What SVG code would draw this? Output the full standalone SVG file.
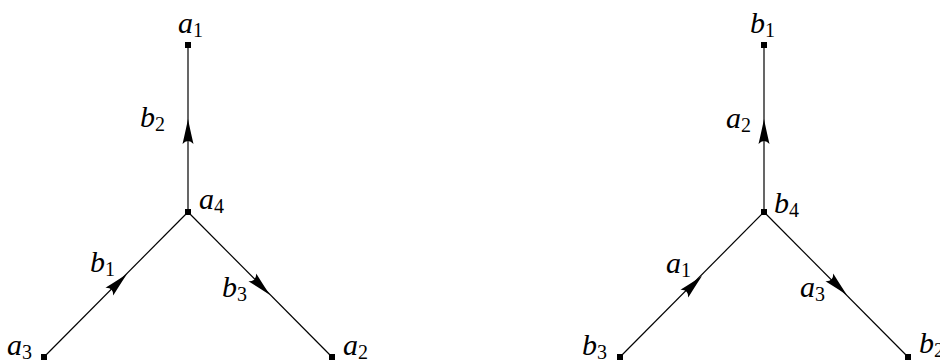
<svg xmlns="http://www.w3.org/2000/svg" xmlns:xlink="http://www.w3.org/1999/xlink" width="940" height="360" viewBox="0 0 940 360">
<style>
.edge{stroke:#000;stroke-width:1.2;fill:none}
.node{fill:#000}
.lbl{font-family:"Liberation Serif","DejaVu Serif",serif;font-style:italic;font-size:30px;fill:#000}
.sub{font-style:normal;font-size:20px}
</style>
<defs>
<path id="ah" d="M0,0 Q-10,-2 -25,-5.5 Q-19,0 -25,5.5 Q-10,2 0,0 Z" fill="#000"/>
</defs>
<g id="connectors">
<line class="edge" x1="188" y1="212" x2="188" y2="45"/>
<line class="edge" x1="44" y1="357" x2="188" y2="212"/>
<line class="edge" x1="188" y1="212" x2="332" y2="357"/>
<use xlink:href="#ah" transform="translate(188,119) rotate(-90)"/>
<use xlink:href="#ah" transform="translate(127,274) rotate(-45)"/>
<use xlink:href="#ah" transform="translate(270,295) rotate(45)"/>
<line class="edge" x1="764" y1="212" x2="764" y2="45"/>
<line class="edge" x1="620" y1="357" x2="764" y2="212"/>
<line class="edge" x1="764" y1="212" x2="908" y2="357"/>
<use xlink:href="#ah" transform="translate(764,119) rotate(-90)"/>
<use xlink:href="#ah" transform="translate(702,276) rotate(-45)"/>
<use xlink:href="#ah" transform="translate(847,295) rotate(45)"/>
</g>
<g id="L_a1"><rect class="node" x="185" y="42" width="6" height="6"/><text class="lbl" x="178" y="33">a<tspan class="sub" dy="4">1</tspan></text></g>
<g id="L_a4"><rect class="node" x="185" y="209" width="6" height="6"/><text class="lbl" x="199" y="209">a<tspan class="sub" dy="4">4</tspan></text></g>
<g id="L_a3"><rect class="node" x="41" y="354" width="6" height="6"/><text class="lbl" x="7" y="355">a<tspan class="sub" dy="4">3</tspan></text></g>
<g id="L_a2"><rect class="node" x="329" y="354" width="6" height="6"/><text class="lbl" x="343" y="355">a<tspan class="sub" dy="4">2</tspan></text></g>
<g id="L_b2lbl"><text class="lbl" x="140" y="127">b<tspan class="sub" dy="4">2</tspan></text></g>
<g id="L_b1lbl"><text class="lbl" x="90" y="272">b<tspan class="sub" dy="4">1</tspan></text></g>
<g id="L_b3lbl"><text class="lbl" x="222" y="297">b<tspan class="sub" dy="4">3</tspan></text></g>
<g id="R_b1"><rect class="node" x="761" y="42" width="6" height="6"/><text class="lbl" x="750" y="33">b<tspan class="sub" dy="4">1</tspan></text></g>
<g id="R_b4"><rect class="node" x="761" y="209" width="6" height="6"/><text class="lbl" x="774" y="213">b<tspan class="sub" dy="4">4</tspan></text></g>
<g id="R_b3"><rect class="node" x="617" y="354" width="6" height="6"/><text class="lbl" x="582" y="355">b<tspan class="sub" dy="4">3</tspan></text></g>
<g id="R_b2"><rect class="node" x="905" y="354" width="6" height="6"/><text class="lbl" x="919" y="353">b<tspan class="sub" dy="4">2</tspan></text></g>
<g id="R_a2lbl"><text class="lbl" x="726" y="128">a<tspan class="sub" dy="4">2</tspan></text></g>
<g id="R_a1lbl"><text class="lbl" x="666" y="273">a<tspan class="sub" dy="4">1</tspan></text></g>
<g id="R_a3lbl"><text class="lbl" x="800" y="297">a<tspan class="sub" dy="4">3</tspan></text></g>
</svg>
